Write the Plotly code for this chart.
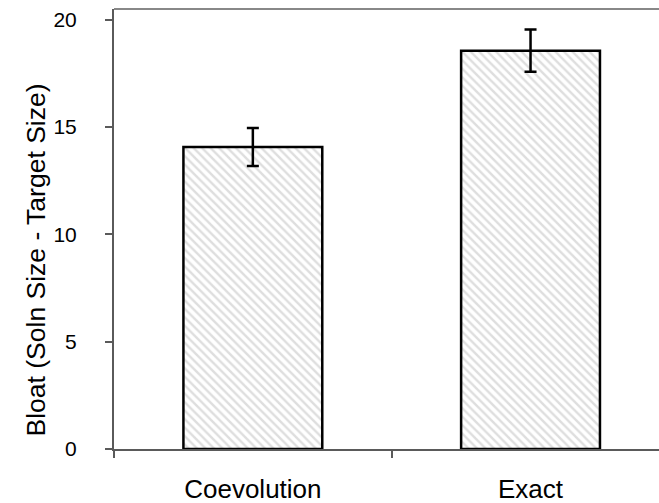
import plotly.graph_objects as go

categories = ["Coevolution", "Exact"]
bloat = [14.07, 18.56]
err = [0.88, 0.98]
y_ticks = [0, 5, 10, 15, 20]

W, H = 659, 503
L, T, B, R = 114, 9, 54, 0

fig = go.Figure()
fig.add_trace(go.Bar(
    x=categories, y=bloat, width=0.5,
    marker=dict(
        color="white",
        line=dict(color="black", width=2.5),
        pattern=dict(shape="\\", fgcolor="#bdbdbd", bgcolor="white", size=6, solidity=0.4),
    ),
    error_y=dict(type="data", array=err, visible=True, color="black", thickness=2.5, width=6),
))

fig.update_layout(
    width=W, height=H,
    margin=dict(l=L, r=R, t=T, b=B, pad=0),
    paper_bgcolor="white", plot_bgcolor="white",
    font=dict(family="Liberation Sans, Arial, sans-serif", color="black"),
    showlegend=False,
    bargap=0.5,
)
fig.update_xaxes(
    type="category", range=[-0.5, 1.4626], tickson="boundaries",
    showline=True, linecolor="#5a5a5a", linewidth=2,
    ticks="outside", ticklen=7, tickcolor="#5a5a5a", tickwidth=1.5,
    tickfont=dict(size=26), ticklabelstandoff=16,
    showgrid=False, zeroline=False, fixedrange=True,
)
fig.update_yaxes(
    range=[0, 20.5], tickvals=y_ticks,
    showline=True, linecolor="#5a5a5a", linewidth=2,
    ticks="outside", ticklen=7, tickcolor="#5a5a5a", tickwidth=1.5,
    tickfont=dict(size=21), ticklabelstandoff=24,
    showgrid=False, zeroline=False, fixedrange=True,
)
# top border of the plot frame
fig.add_shape(type="line", xref="paper", yref="paper", x0=0, x1=1, y0=1, y1=1,
              line=dict(color="#888888", width=2))

fig.add_annotation(
    text="Bloat (Soln Size - Target Size)", textangle=-90,
    xref="paper", yref="paper", x=(35 - L) / (W - L - R), y=(448.5 - 260) / (H - T - B),
    xanchor="center", yanchor="middle", showarrow=False,
    font=dict(size=26.5, color="black"),
)

fig.write_html("out.html")
